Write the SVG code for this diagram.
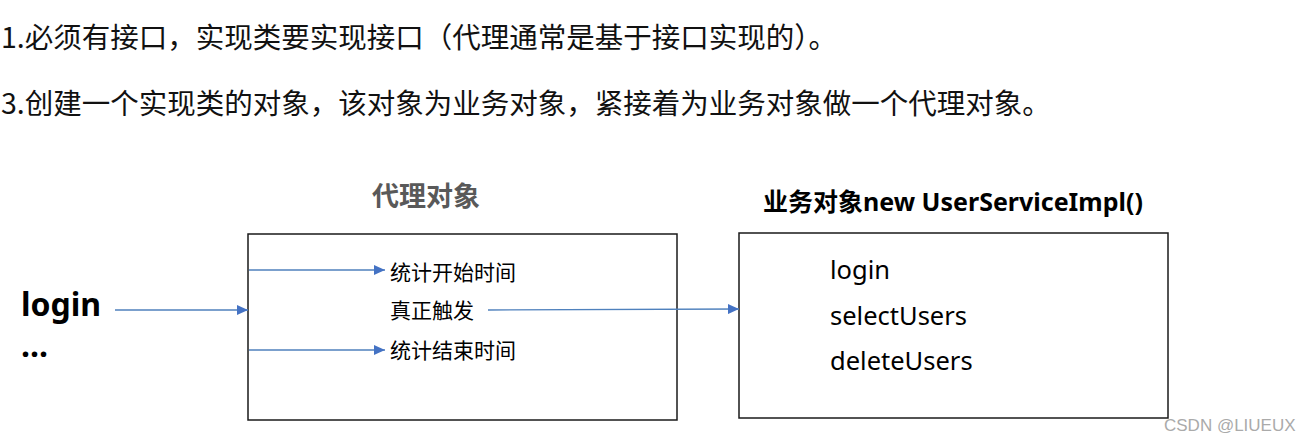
<svg xmlns="http://www.w3.org/2000/svg" width="1314" height="441" viewBox="0 0 1314 441">
<defs>
<style>
.cjk{font-family:"Noto Sans CJK SC","Noto Sans",sans-serif;}
.lat{font-family:"Noto Sans","Noto Sans CJK SC",sans-serif;}
.box{fill:#fff;stroke:#1a1a1a;stroke-width:1.5;}
.conn{stroke:#4f81bd;stroke-width:1.4;fill:none;marker-end:url(#ah);}
</style>
<marker id="ah" markerUnits="userSpaceOnUse" markerWidth="11" markerHeight="10" refX="11" refY="5" orient="auto">
<path d="M0,0 L11,5 L0,10 z" fill="#4472c4"/>
</marker>
</defs>
<rect width="1314" height="441" fill="#fff"/>
<g id="intro">
<text class="cjk" x="1" y="48" font-size="28.5" fill="#111">1.必须有接口，实现类要实现接口（代理通常是基于接口实现的）。</text>
<text class="cjk" x="1" y="114" font-size="28.5" fill="#111">3.创建一个实现类的对象，该对象为业务对象，紧接着为业务对象做一个代理对象。</text>
</g>
<g id="caller">
<text class="lat" x="21" y="316" font-size="32" font-weight="bold" fill="#000">login</text>
<text class="lat" x="21" y="357" font-size="32" font-weight="bold" fill="#000">...</text>
</g>
<g id="proxy">
<text class="cjk" x="372" y="206" font-size="27" font-weight="bold" fill="#595959">代理对象</text>
<rect class="box" x="248" y="234" width="429" height="186"/>
<text class="cjk" x="390" y="280" font-size="21" fill="#000">统计开始时间</text>
<text class="cjk" x="390" y="318" font-size="21" fill="#000">真正触发</text>
<text class="cjk" x="390" y="358" font-size="21" fill="#000">统计结束时间</text>
</g>
<g id="target">
<text class="lat" x="763" y="211" font-size="25" font-weight="bold" fill="#000">业务对象new UserServiceImpl()</text>
<rect class="box" x="739" y="233" width="429" height="185"/>
<text class="lat" x="830" y="279" font-size="25.5" fill="#000">login</text>
<text class="lat" x="830" y="325" font-size="25.5" fill="#000">selectUsers</text>
<text class="lat" x="830" y="370" font-size="25.5" fill="#000">deleteUsers</text>
</g>
<g id="connectors">
<line class="conn" x1="115" y1="310" x2="248" y2="310"/>
<line class="conn" x1="249" y1="270" x2="385" y2="270"/>
<line class="conn" x1="249" y1="350" x2="385" y2="350"/>
<line class="conn" x1="488" y1="310" x2="739" y2="309"/>
</g>
<g id="watermark">
<text x="1164" y="431" font-family="Liberation Sans, Arial, sans-serif" font-size="17" fill="#aaaaaa">CSDN @LIUEUX</text>
</g>
</svg>
